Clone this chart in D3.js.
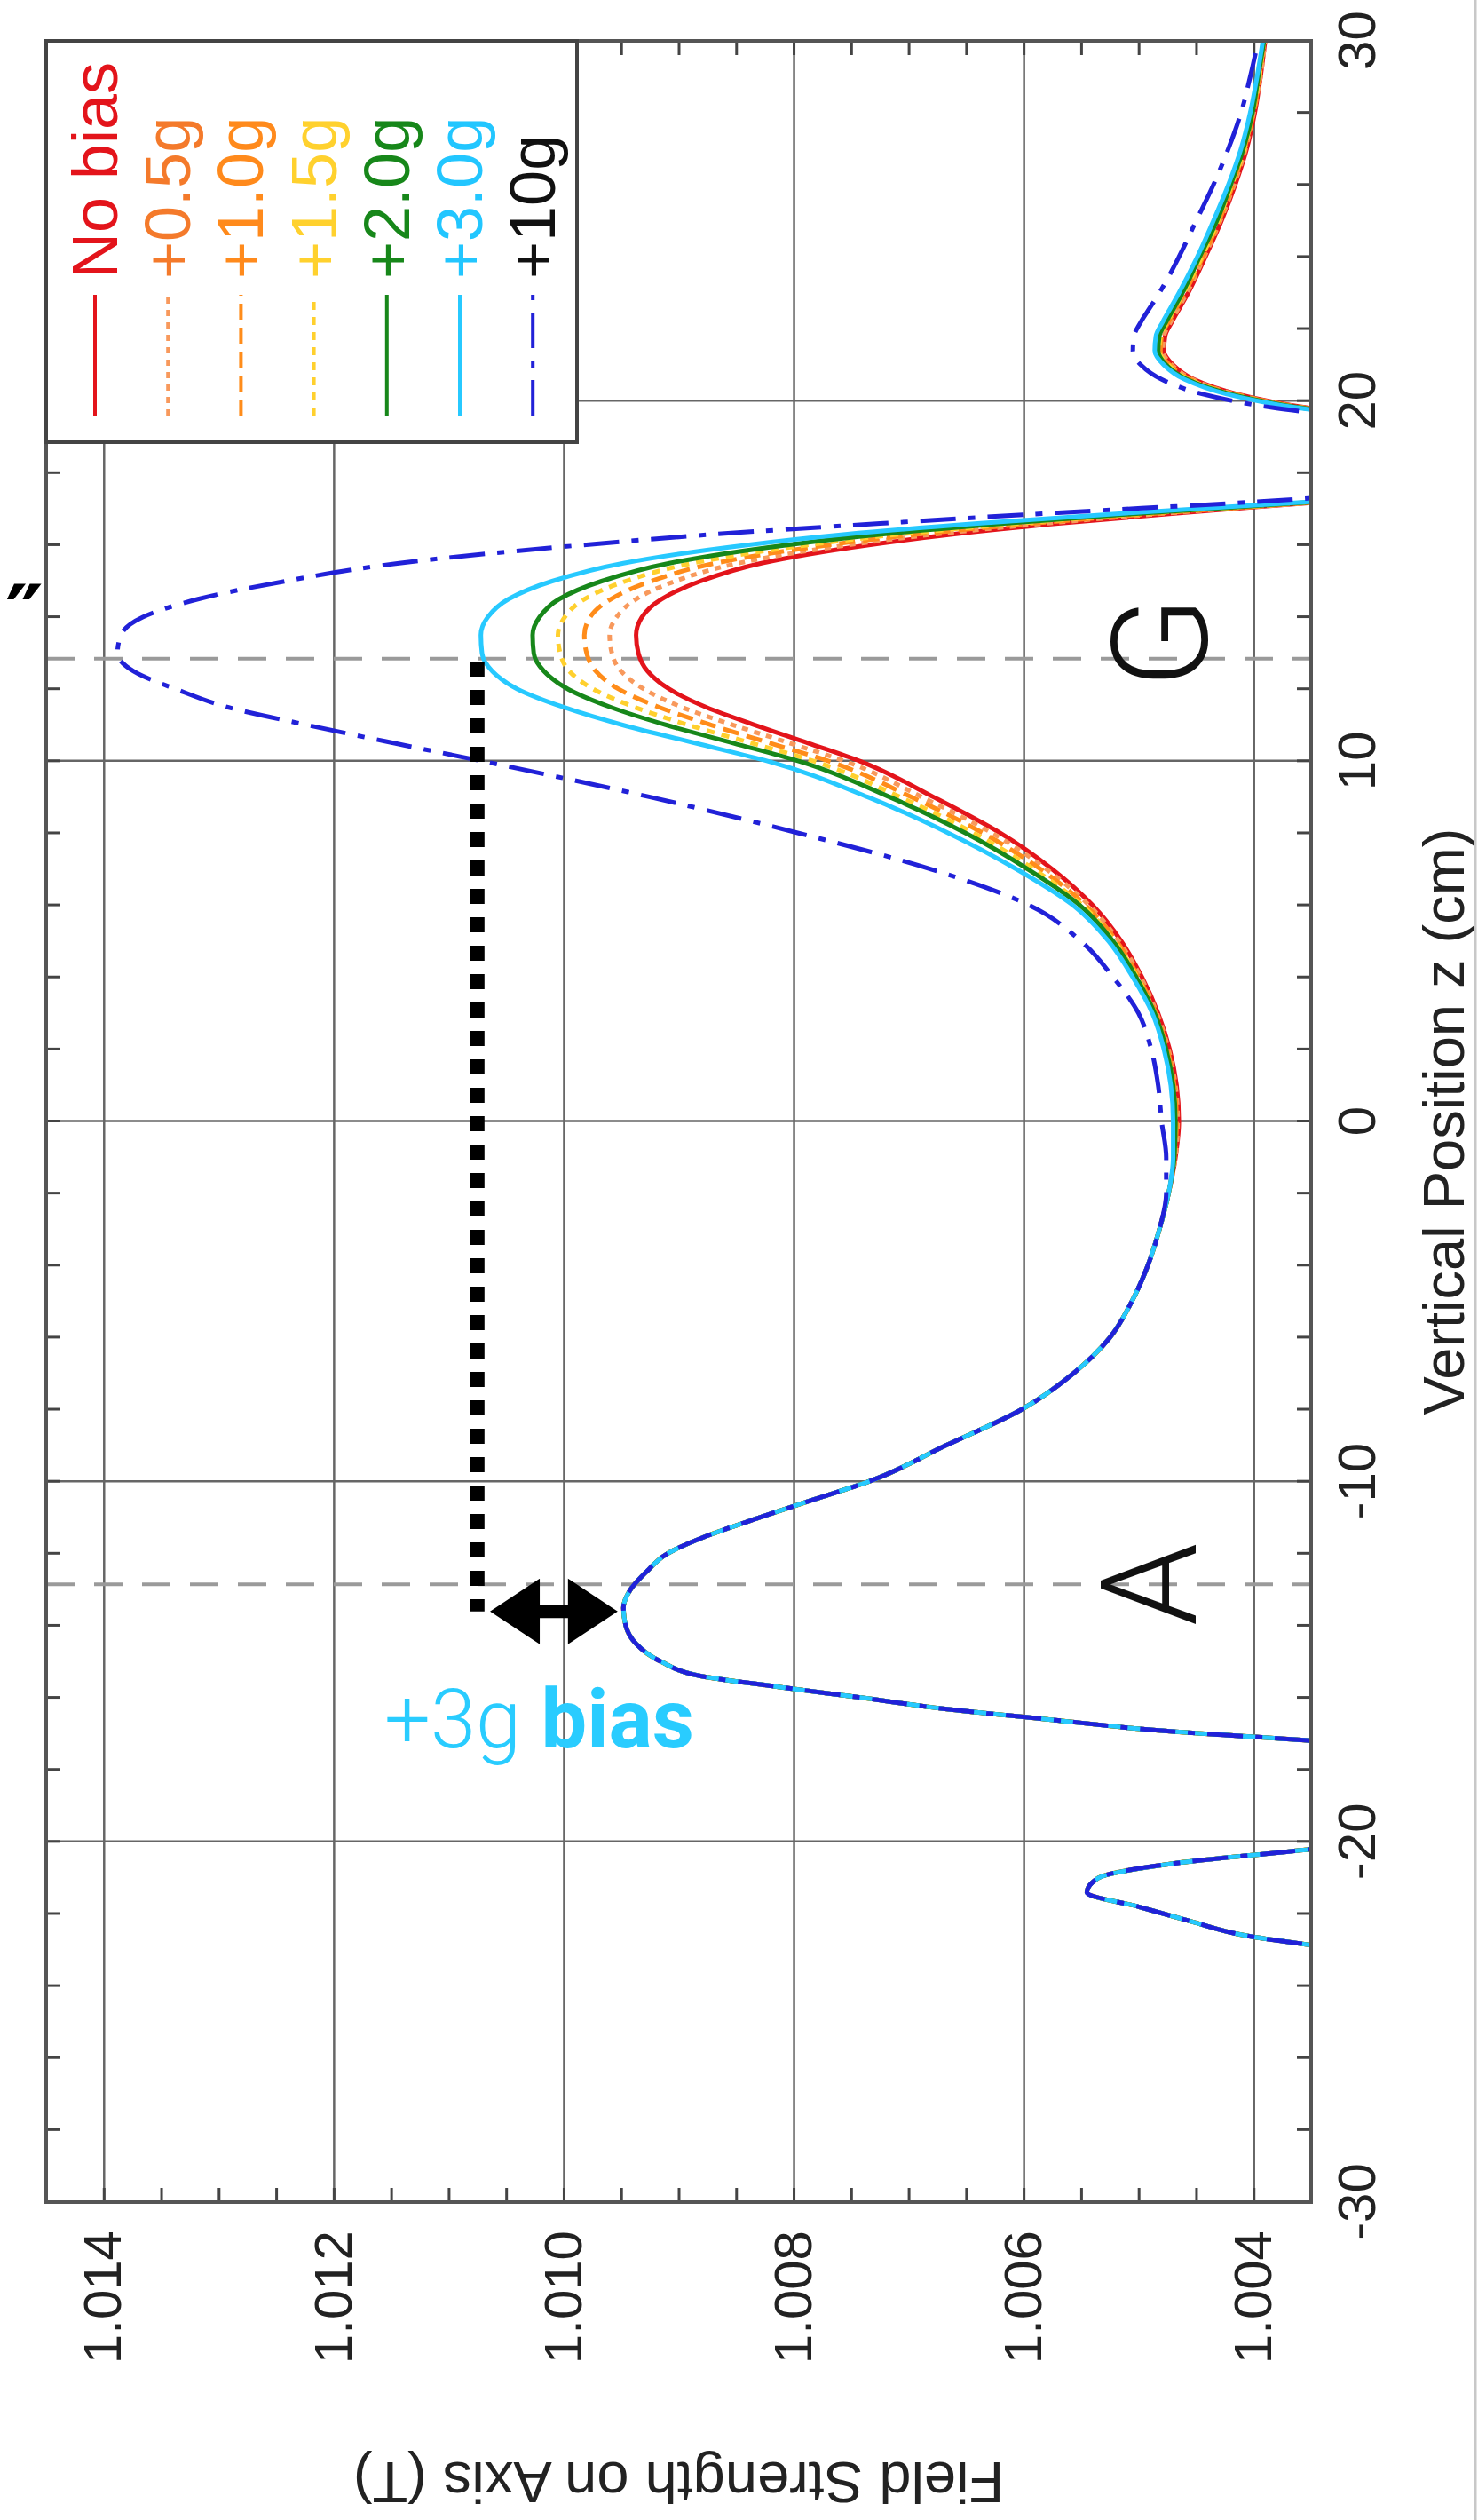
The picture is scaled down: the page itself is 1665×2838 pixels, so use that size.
<!DOCTYPE html>
<html>
<head>
<meta charset="utf-8">
<title>Field Strength on Axis</title>
<script src="https://cdn.jsdelivr.net/npm/d3@7"></script>
<style>
  html, body { margin: 0; padding: 0; background: #fff; }
  #chart svg { display: block; }
</style>
</head>
<body>
<div id="chart"></div>
<script>
// Lower half of the axis (cm): every bias gives the same field here
const zLower = [-30, -26, -24, -23, -22.6, -22.2, -21.8, -21.4, -21.0, -20.6, -20.2,
    -19.5, -18.5, -17.6, -17.2, -16.9, -16.6, -16.3, -16.0, -15.7, -15.4, -15.0,
    -14.5, -14.0, -13.5, -13.0, -12.5, -12.0, -11.5, -11.0, -10.5, -10.0,
    -9, -8, -7, -6, -5, -4, -3];
const fieldLower = [1.00100, 1.00100, 1.00200, 1.00320, 1.00407, 1.00455, 1.00500, 1.00545, 1.00535, 1.00470, 1.00350,
    1.00200, 1.00150, 1.00200, 1.00345, 1.00485, 1.00578, 1.00670, 1.00740, 1.00812, 1.00880, 1.00915,
    1.00937, 1.00946, 1.00948, 1.00942, 1.00928, 1.00910, 1.00875, 1.00830, 1.00783, 1.00735,
    1.00668, 1.00602, 1.00557, 1.00525, 1.00506, 1.00492, 1.00482];

// Upper half, one list per bias
const zUpper = [-2, -1, 0, 1, 2, 3, 4, 5, 6, 7, 8, 9,
    10, 10.5, 11, 11.5, 12, 12.5, 13, 13.5, 14, 14.5, 15, 15.5, 16,
    16.3, 16.6, 16.9, 17.2, 17.6, 18.5, 19.5, 19.8,
    20.2, 20.6, 21, 21.4, 21.8, 22.2, 22.6, 23,
    24, 25, 26, 27, 28, 29, 30];
const noBias = [1.00474, 1.00468, 1.00465, 1.00467, 1.00473, 1.00483, 1.00497, 1.00515, 1.00540, 1.00575, 1.00620, 1.00678,
    1.00742, 1.00787, 1.00833, 1.00876, 1.00908, 1.00927, 1.00935, 1.00937, 1.00932, 1.00915, 1.00881, 1.00828, 1.00736,
    1.00662, 1.00570, 1.00462, 1.00340, 1.00200, 1.00100, 1.00270, 1.00350,
    1.00415, 1.00452, 1.00470, 1.00478, 1.00477, 1.00471, 1.00464, 1.00457,
    1.00442, 1.00428, 1.00416, 1.00406, 1.00399, 1.00394, 1.00390];
const bias05 = [1.00474, 1.00468, 1.00466, 1.00468, 1.00474, 1.00484, 1.00498, 1.00517, 1.00543, 1.00580, 1.00627, 1.00688,
    1.00755, 1.00803, 1.00852, 1.00897, 1.00930, 1.00950, 1.00958, 1.00960, 1.00954, 1.00937, 1.00903, 1.00848, 1.00754,
    1.00678, 1.00582, 1.00469, 1.00342, 1.00202, 1.00101, 1.00272, 1.00352,
    1.00417, 1.00453, 1.00471, 1.00479, 1.00478, 1.00472, 1.00465, 1.00458,
    1.00443, 1.00429, 1.00417, 1.00407, 1.00400, 1.00394, 1.00390];
const bias10 = [1.00474, 1.00469, 1.00467, 1.00469, 1.00475, 1.00485, 1.00500, 1.00519, 1.00546, 1.00585, 1.00635, 1.00697,
    1.00769, 1.00820, 1.00871, 1.00917, 1.00952, 1.00972, 1.00980, 1.00982, 1.00977, 1.00959, 1.00924, 1.00868, 1.00771,
    1.00693, 1.00593, 1.00476, 1.00344, 1.00203, 1.00102, 1.00273, 1.00353,
    1.00418, 1.00455, 1.00473, 1.00481, 1.00480, 1.00474, 1.00467, 1.00460,
    1.00444, 1.00430, 1.00418, 1.00408, 1.00400, 1.00395, 1.00391];
const bias15 = [1.00474, 1.00469, 1.00468, 1.00470, 1.00476, 1.00486, 1.00501, 1.00521, 1.00549, 1.00591, 1.00643, 1.00707,
    1.00782, 1.00836, 1.00891, 1.00938, 1.00974, 1.00995, 1.01003, 1.01005, 1.00999, 1.00982, 1.00946, 1.00888, 1.00789,
    1.00709, 1.00605, 1.00484, 1.00346, 1.00205, 1.00103, 1.00275, 1.00355,
    1.00420, 1.00456, 1.00474, 1.00482, 1.00481, 1.00475, 1.00468, 1.00461,
    1.00445, 1.00431, 1.00419, 1.00408, 1.00401, 1.00395, 1.00391];
const bias20 = [1.00474, 1.00469, 1.00468, 1.00470, 1.00476, 1.00486, 1.00502, 1.00522, 1.00551, 1.00596, 1.00650, 1.00716,
    1.00795, 1.00852, 1.00910, 1.00959, 1.00996, 1.01017, 1.01026, 1.01027, 1.01021, 1.01004, 1.00967, 1.00908, 1.00807,
    1.00724, 1.00617, 1.00491, 1.00348, 1.00207, 1.00103, 1.00276, 1.00356,
    1.00421, 1.00458, 1.00476, 1.00483, 1.00482, 1.00476, 1.00469, 1.00462,
    1.00447, 1.00432, 1.00420, 1.00409, 1.00401, 1.00396, 1.00391];
const bias30 = [1.00474, 1.00470, 1.00470, 1.00472, 1.00478, 1.00488, 1.00505, 1.00526, 1.00557, 1.00606, 1.00665, 1.00735,
    1.00822, 1.00885, 1.00948, 1.01000, 1.01040, 1.01062, 1.01071, 1.01072, 1.01066, 1.01048, 1.01010, 1.00948, 1.00842,
    1.00755, 1.00640, 1.00505, 1.00352, 1.00210, 1.00105, 1.00279, 1.00359,
    1.00424, 1.00460, 1.00478, 1.00486, 1.00485, 1.00479, 1.00472, 1.00465,
    1.00449, 1.00435, 1.00422, 1.00411, 1.00403, 1.00397, 1.00392];
const bias100 = [1.00476, 1.00476, 1.00480, 1.00483, 1.00489, 1.00500, 1.00522, 1.00550, 1.00595, 1.00680, 1.00795, 1.00924,
    1.01070, 1.01147, 1.01222, 1.01292, 1.01337, 1.01374, 1.01388, 1.01385, 1.01366, 1.01318, 1.01242, 1.01143, 1.00985,
    1.00870, 1.00725, 1.00570, 1.00400, 1.00240, 1.00120, 1.00300, 1.00380,
    1.00445, 1.00480, 1.00498, 1.00505, 1.00504, 1.00498, 1.00490, 1.00482,
    1.00465, 1.00450, 1.00435, 1.00422, 1.00411, 1.00403, 1.00396];

const seriesNames = ["No bias", "+0.5g", "+1.0g", "+1.5g", "+2.0g", "+3.0g", "+10g"];
const zTicks = [-30, -20, -10, 0, 10, 20, 30];
const fieldTicks = [1.004, 1.006, 1.008, 1.010, 1.012, 1.014];

// A and G positions, and the +3g annotation
const markerZ = [-12.85, 12.85];
const markerLabels = ["A", "G"];
const markerLabelZ = [-12.85, 13.3];
const biasLevel = 1.01075;
const biasSpan = [12.77, -13.6];
const arrowZ = -13.6;
const arrowField = [1.01064, 1.00953];

const lineStyles = [
    { stroke: "#e3141b", label: "#e3141b", dash: null },
    { stroke: "#f8995c", label: "#f47a2b", dash: "7,7" },
    { stroke: "#ff8c1a", label: "#ff8a1c", dash: "18,9" },
    { stroke: "#ffd02e", label: "#ffd12e", dash: "9,8" },
    { stroke: "#17871a", label: "#17871a", dash: null },
    { stroke: "#27c9ff", label: "#22c6ff", dash: null },
    { stroke: "#2121d8", label: "#111111", dash: "40,14,8,14" }
];

const upperValues = [noBias, bias05, bias10, bias15, bias20, bias30, bias100];
const zAll = zLower.concat(zUpper);
const series = seriesNames.map((name, i) => ({
    name: name,
    values: fieldLower.concat(upperValues[i]),
    style: lineStyles[i]
}));

const width = 1665, height = 2838;
const frame = { left: 52, top: 46, right: 1477, bottom: 2480 };
const plotW = frame.bottom - frame.top;   // length of the z axis
const plotH = frame.right - frame.left;   // length of the field axis
const font = "'Liberation Sans', Arial, Helvetica, sans-serif";

const svg = d3.select("#chart").append("svg")
    .attr("width", width)
    .attr("height", height);

svg.append("rect").attr("width", width).attr("height", height).attr("fill", "#fff");

// The whole plot is turned a quarter turn anticlockwise
const g = svg.append("g")
    .attr("transform", `translate(${frame.left},${frame.bottom}) rotate(-90)`)
    .attr("font-family", font);

const x = d3.scaleLinear().domain([-30, 30]).range([0, plotW]);
const y = d3.scaleLinear().domain([1.0035, 1.0145]).range([plotH, 0]);

// Gridlines
g.append("g").attr("class", "grid")
    .attr("transform", `translate(0,${plotH})`)
    .call(d3.axisBottom(x).tickValues(zTicks).tickSize(-plotH).tickFormat(""));
g.append("g").attr("class", "grid")
    .call(d3.axisLeft(y).tickValues(fieldTicks).tickSize(-plotW).tickFormat(""));
g.selectAll(".grid .domain").remove();
g.selectAll(".grid line").attr("stroke", "#666").attr("stroke-width", 2.5);

// Minor ticks on all four sides, pointing inwards
const zMinor = d3.range(-30, 31, 2);
const fieldMinor = d3.range(0, 23).map(i => 1.0035 + i * 0.0005);
g.append("g").attr("class", "minor").attr("transform", `translate(0,${plotH})`)
    .call(d3.axisBottom(x).tickValues(zMinor).tickSize(-16).tickFormat(""));
g.append("g").attr("class", "minor")
    .call(d3.axisTop(x).tickValues(zMinor).tickSize(-16).tickFormat(""));
g.append("g").attr("class", "minor")
    .call(d3.axisLeft(y).tickValues(fieldMinor).tickSize(-16).tickFormat(""));
g.append("g").attr("class", "minor").attr("transform", `translate(${plotW},0)`)
    .call(d3.axisRight(y).tickValues(fieldMinor).tickSize(-16).tickFormat(""));
g.selectAll(".minor .domain").remove();
g.selectAll(".minor line").attr("stroke", "#444").attr("stroke-width", 3);

// Reference lines through A and G
g.selectAll(".marker-line")
    .data(markerZ)
    .enter().append("line")
    .attr("class", "marker-line")
    .attr("x1", d => x(d)).attr("x2", d => x(d))
    .attr("y1", 0).attr("y2", plotH)
    .attr("stroke", "#9a9a9a")
    .attr("stroke-width", 4)
    .attr("stroke-dasharray", "32,22");

// Curves
g.append("clipPath").attr("id", "plot-clip")
    .append("rect").attr("width", plotW).attr("height", plotH);

const line = d3.line()
    .x((d, i) => x(zAll[i]))
    .y(d => y(d))
    .curve(d3.curveMonotoneX);

g.append("g").attr("clip-path", "url(#plot-clip)")
    .selectAll("path")
    .data(series)
    .enter().append("path")
    .attr("d", d => line(d.values))
    .attr("fill", "none")
    .attr("stroke", d => d.style.stroke)
    .attr("stroke-width", 5)
    .attr("stroke-dasharray", d => d.style.dash);

// Frame
g.append("rect")
    .attr("width", plotW).attr("height", plotH)
    .attr("fill", "none")
    .attr("stroke", "#555")
    .attr("stroke-width", 4);

// Tick labels
const zAxis = g.append("g")
    .attr("transform", `translate(0,${plotH})`)
    .call(d3.axisBottom(x).tickValues(zTicks).tickSize(0).tickPadding(29).tickFormat(d => String(d)));
const fieldAxis = g.append("g")
    .call(d3.axisLeft(y).tickValues(fieldTicks).tickSize(0).tickPadding(32).tickFormat(d3.format(".3f")));
[zAxis, fieldAxis].forEach(a => {
    a.attr("font-size", 60).attr("font-family", font);
    a.select(".domain").remove();
    a.selectAll("text").attr("fill", "#222");
});

// Axis titles
g.append("text")
    .attr("x", x(0))
    .attr("y", plotH + 172)
    .attr("text-anchor", "middle")
    .attr("font-size", 65)
    .attr("fill", "#222")
    .text("Vertical Position z (cm)");

g.append("text")
    .attr("transform", `translate(-293,${plotH / 2}) rotate(-90)`)
    .attr("text-anchor", "middle")
    .attr("font-size", 65)
    .attr("fill", "#222")
    .text("Field Strength on Axis (T)");

// Legend in the upper right corner of the unturned plot
const legendLeft = 1982, legendHeight = 598;
const legend = g.append("g");
legend.append("rect")
    .attr("x", legendLeft).attr("y", 0)
    .attr("width", plotW - legendLeft).attr("height", legendHeight)
    .attr("fill", "#fff")
    .attr("stroke", "#444")
    .attr("stroke-width", 4);

const rows = legend.selectAll(".row")
    .data(series)
    .enter().append("g")
    .attr("class", "row")
    .attr("transform", (d, i) => `translate(0,${55 + i * 82.2})`);

rows.append("line")
    .attr("x1", 2012).attr("x2", 2148)
    .attr("stroke", d => d.style.stroke)
    .attr("stroke-width", 4)
    .attr("stroke-dasharray", d => d.style.dash);

rows.append("text")
    .attr("x", 2166)
    .attr("y", 25)
    .attr("font-size", 72)
    .attr("fill", d => d.style.label)
    .text(d => d.name);

// A and G letters
const labelBaseline = [1295, 1308];
g.selectAll(".marker-label")
    .data(markerLabelZ)
    .enter().append("text")
    .attr("class", "marker-label")
    .attr("x", d => x(d))
    .attr("y", (d, i) => labelBaseline[i])
    .attr("text-anchor", "middle")
    .attr("font-size", 150)
    .attr("font-family", "Roboto, 'Liberation Sans', sans-serif")
    .attr("font-weight", 300)
    .attr("fill", "#111")
    .text((d, i) => markerLabels[i]);

// +3g peak level carried back to A
g.append("line")
    .attr("x1", x(biasSpan[0])).attr("x2", x(biasSpan[1]))
    .attr("y1", y(biasLevel)).attr("y2", y(biasLevel))
    .attr("stroke", "#000")
    .attr("stroke-width", 16)
    .attr("stroke-dasharray", "17,15");

// Double arrow between the two levels
const au = x(arrowZ), v0 = y(arrowField[0]), v1 = y(arrowField[1]);
const head = 56, half = 37, shaft = 7.5;
const arrowPts = [
    [au, v0], [au + half, v0 + head], [au + shaft, v0 + head],
    [au + shaft, v1 - head], [au + half, v1 - head], [au, v1],
    [au - half, v1 - head], [au - shaft, v1 - head],
    [au - shaft, v0 + head], [au - half, v0 + head]
];
g.append("path")
    .attr("d", d3.line()(arrowPts) + "Z")
    .attr("fill", "#000");

// Upright overlay text
svg.append("text")
    .attr("x", 433)
    .attr("y", 1968)
    .attr("font-family", "Roboto, 'Liberation Sans', sans-serif")
    .attr("font-size", 92)
    .attr("fill", "#29ccff")
    .call(t => {
        t.append("tspan").attr("font-weight", 300).text("+3g ");
        t.append("tspan").attr("font-weight", 700).text("bias");
    });

svg.append("text")
    .attr("x", 6)
    .attr("y", 728)
    .attr("font-family", "'DejaVu Sans', sans-serif")
    .attr("font-size", 96)
    .attr("font-weight", 700)
    .attr("fill", "#000")
    .text("\u2033");

svg.append("line")
    .attr("x1", 1662).attr("x2", 1662)
    .attr("y1", 0).attr("y2", height)
    .attr("stroke", "#c8c8c8")
    .attr("stroke-width", 3);
</script>
</body>
</html>
